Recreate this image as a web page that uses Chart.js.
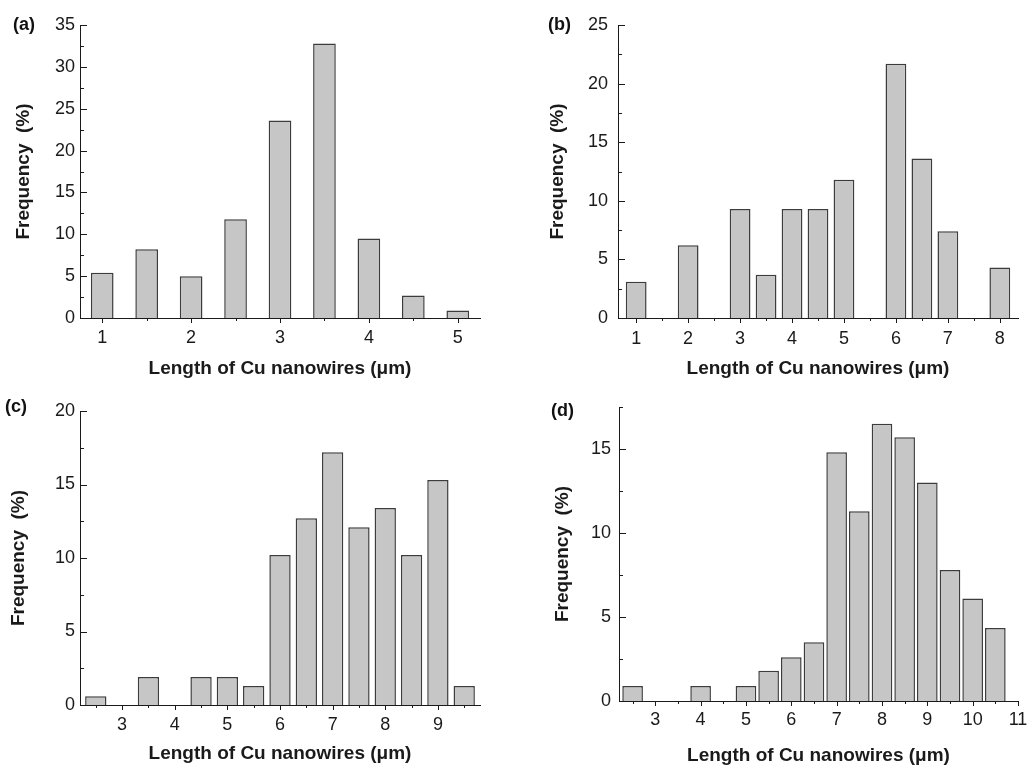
<!DOCTYPE html>
<html>
<head>
<meta charset="utf-8">
<script src="https://cdn.jsdelivr.net/npm/chart.js@4.4.1/dist/chart.umd.min.js"></script>
<style>
  html, body { margin: 0; padding: 0; background: #fff; }
  body { width: 1032px; height: 769px; position: relative; overflow: hidden; }
  canvas { position: absolute; }
  .tag { position: absolute; font: bold 18px 'Liberation Sans', Arial, sans-serif; line-height: 18px; color: #111; }
</style>
</head>
<body>
<canvas id="chartA" width="516" height="384" style="left:0;top:0"></canvas>
<canvas id="chartB" width="516" height="384" style="left:516px;top:0"></canvas>
<canvas id="chartC" width="516" height="385" style="left:0;top:384px"></canvas>
<canvas id="chartD" width="516" height="385" style="left:516px;top:384px"></canvas>
<div class="tag" style="left:13px;top:15px">(a)</div>
<div class="tag" style="left:548px;top:15px">(b)</div>
<div class="tag" style="left:5px;top:397px">(c)</div>
<div class="tag" style="left:551px;top:401px">(d)</div>
<script>
// ---- data (bin centre in µm, frequency in %) ----
const lengthsA = [1, 1.5, 2, 2.5, 3, 3.5, 4, 4.5, 5];
const freqA    = [5.4, 8.2, 5.0, 11.8, 23.6, 32.8, 9.5, 2.7, 0.9];

const lengthsB = [1, 1.5, 2, 2.5, 3, 3.5, 4, 4.5, 5, 5.5, 6, 6.5, 7, 7.5, 8];
const freqB    = [3.1, 0, 6.2, 0, 9.3, 3.7, 9.3, 9.3, 11.8, 0, 21.7, 13.6, 7.4, 0, 4.3];

const lengthsC = [2.5, 3, 3.5, 4, 4.5, 5, 5.5, 6, 6.5, 7, 7.5, 8, 8.5, 9, 9.5];
const freqC    = [0.6, 0, 1.9, 0, 1.9, 1.9, 1.3, 10.2, 12.7, 17.2, 12.1, 13.4, 10.2, 15.3, 1.3];

const lengthsD = [2.5, 3, 3.5, 4, 4.5, 5, 5.5, 6, 6.5, 7, 7.5, 8, 8.5, 9, 9.5, 10, 10.5];
const freqD    = [0.9, 0, 0, 0.9, 0, 0.9, 1.8, 2.6, 3.5, 14.8, 11.3, 16.5, 15.7, 13.0, 7.8, 6.1, 4.35];

// ---- tick labels ----
const xTicksA = [1, 2, 3, 4, 5];
const yTicksA = [0, 5, 10, 15, 20, 25, 30, 35];
const xTicksB = [1, 2, 3, 4, 5, 6, 7, 8];
const yTicksB = [0, 5, 10, 15, 20, 25];
const xTicksC = [3, 4, 5, 6, 7, 8, 9];
const yTicksC = [0, 5, 10, 15, 20];
const xTicksD = [3, 4, 5, 6, 7, 8, 9, 10, 11];
const yTicksD = [0, 5, 10, 15];

const xTitle = 'Length of Cu nanowires (\u03bcm)';
const yTitle = 'Frequency  (%)';

const FONT = "'Liberation Sans', Arial, sans-serif";
const INK = '#1a1a1a';

// Origin-style tick marks: y ticks point inward, x ticks outward, minor ticks shorter
const originTicks = {
    id: 'originTicks',
    afterDraw(chart, args, opts) {
        const { ctx, chartArea, scales: { x, y } } = chart;
        const steps = (min, max, step) => {
            const out = [];
            for (let v = Math.ceil(min / step - 1e-9) * step; v <= max + 1e-9; v += step) out.push(Math.round(v * 1000) / 1000);
            return out;
        };
        const isMajor = (v, list) => list.some(t => Math.abs(t - v) < 1e-6);
        ctx.save();
        ctx.strokeStyle = INK;
        ctx.lineWidth = 1;
        ctx.beginPath();
        steps(x.min, x.max, opts.xStep).forEach(v => {
            const px = Math.round(x.getPixelForValue(v)) + 0.5;
            const len = isMajor(v, opts.xMajor) ? 5 : 3;
            ctx.moveTo(px, chartArea.bottom);
            ctx.lineTo(px, chartArea.bottom + len);
        });
        steps(y.min, y.max, opts.yStep).forEach(v => {
            const py = Math.round(y.getPixelForValue(v)) + 0.5;
            const len = isMajor(v, opts.yMajor) ? 7 : 4;
            ctx.moveTo(chartArea.left, py);
            ctx.lineTo(chartArea.left + len, py);
        });
        ctx.stroke();
        ctx.restore();
    }
};

function histogram(canvasId, lengths, freqs, xTicks, yTicks, p) {
    const canvas = document.getElementById(canvasId);
    const W = canvas.width, H = canvas.height;
    return new Chart(canvas, {
        type: 'bar',
        data: {
            datasets: [{
                data: lengths.map((l, i) => ({ x: l, y: freqs[i] })),
                backgroundColor: '#c6c6c6',
                borderColor: '#3c3c3c',
                borderWidth: 1.5,
                borderSkipped: 'start',
                inflateAmount: 0,
                categoryPercentage: 1,
                barPercentage: p.barPct
            }]
        },
        options: {
            responsive: false,
            animation: false,
            layout: { padding: { left: 0, top: p.area.top, right: W - p.area.right, bottom: 0 } },
            plugins: {
                legend: { display: false },
                tooltip: { enabled: false },
                originTicks: { xStep: p.xMinor, yStep: p.yMinor, xMajor: xTicks, yMajor: yTicks }
            },
            scales: {
                x: {
                    type: 'linear',
                    offset: false,
                    min: p.xMin, max: p.xMax,
                    grid: { display: false, drawTicks: false, offset: false },
                    border: { display: true, color: INK, width: 1 },
                    afterBuildTicks: s => { s.ticks = xTicks.map(v => ({ value: v })); },
                    afterFit: s => { s.height = H - p.area.bottom; s.paddingLeft = 0; s.paddingRight = 0; },
                    ticks: { autoSkip: false, maxRotation: 0, padding: p.xLabelPad, color: INK, font: { family: FONT, size: 18 } },
                    title: { display: true, text: xTitle, color: INK, padding: { top: 0, bottom: p.xTitlePad },
                        font: { family: FONT, size: 19, weight: 'bold', lineHeight: 1.2 } }
                },
                y: {
                    min: 0, max: p.yMax,
                    grid: { display: false, drawTicks: false },
                    border: { display: true, color: INK, width: 1 },
                    afterBuildTicks: s => { s.ticks = yTicks.map(v => ({ value: v })); },
                    afterFit: s => { s.width = p.area.left; s.paddingTop = 0; s.paddingBottom = 0; },
                    ticks: { autoSkip: false, padding: p.yLabelGap, color: INK, font: { family: FONT, size: 18 } },
                    title: { display: true, text: yTitle, color: INK, padding: { top: p.yTitlePad, bottom: 0 },
                        font: { family: FONT, size: 19, weight: 'bold', lineHeight: 1.2 } }
                }
            }
        },
        plugins: [originTicks]
    });
}

histogram('chartA', lengthsA, freqA, xTicksA, yTicksA, {
    area: { left: 80, top: 25, right: 480, bottom: 318 },
    xMin: 0.75, xMax: 5.25, yMax: 35, xMinor: 0.5, yMinor: 2.5,
    barPct: 0.51, xLabelPad: 9, yLabelGap: 5, xTitlePad: 4, yTitlePad: 12
});
histogram('chartB', lengthsB, freqB, xTicksB, yTicksB, {
    area: { left: 102, top: 25, right: 502, bottom: 318 },
    xMin: 0.65, xMax: 8.35, yMax: 25, xMinor: 0.5, yMinor: 2.5,
    barPct: 0.8, xLabelPad: 10, yLabelGap: 10, xTitlePad: 4, yTitlePad: 30
});
histogram('chartC', lengthsC, freqC, xTicksC, yTicksC, {
    area: { left: 80, top: 27, right: 480, bottom: 321 },
    xMin: 2.2, xMax: 9.8, yMax: 20, xMinor: 0.5, yMinor: 2.5,
    barPct: 0.81, xLabelPad: 9.5, yLabelGap: 5, xTitlePad: 3.5, yTitlePad: 7
});
histogram('chartD', lengthsD, freqD, xTicksD, yTicksD, {
    area: { left: 103, top: 23, right: 502, bottom: 317 },
    xMin: 2.2, xMax: 11, yMax: 17.5, xMinor: 0.5, yMinor: 2.5,
    barPct: 0.91, xLabelPad: 8.5, yLabelGap: 8, xTitlePad: 1.5, yTitlePad: 35
});
</script>
</body>
</html>
